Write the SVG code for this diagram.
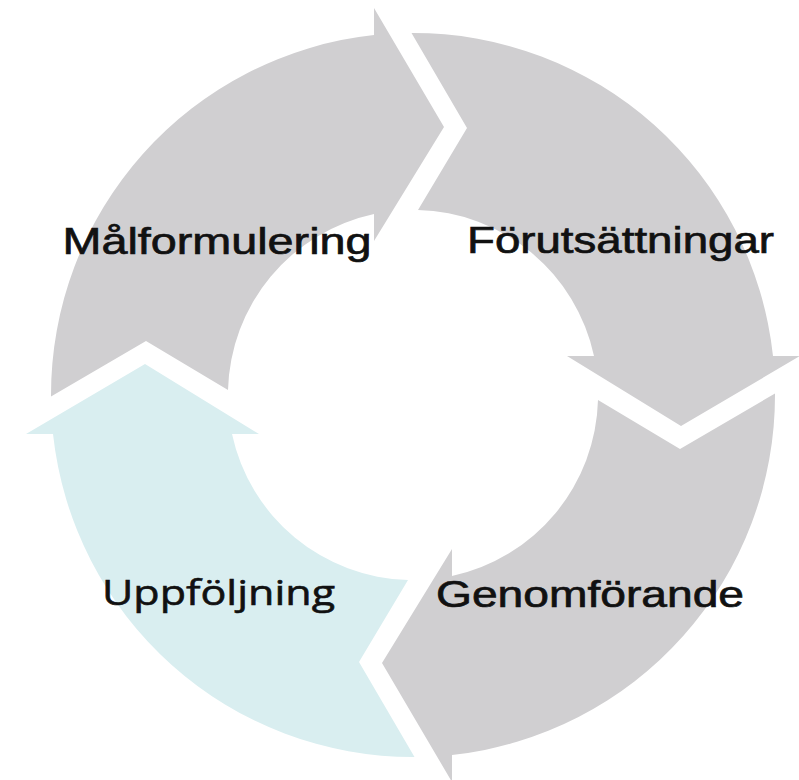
<svg xmlns="http://www.w3.org/2000/svg" width="799" height="780" viewBox="0 0 799 780">
  <style>
    .grey { fill: #d0cfd1; }
    .blue { fill: #d9eef0; }
    .lbl { font-family: "Liberation Sans", Arial, sans-serif; font-size: 37.5px; fill: #111111; stroke: #111111; stroke-width: 0.7px; }
    .lbl2 { font-family: "Open Sans", "Liberation Sans", sans-serif; font-size: 35.5px; fill: #111111; stroke: #111111; stroke-width: 0.6px; }
  </style>
  <defs>
    <path id="arrow" d="M 51 396.5 A 362 362 0 0 1 374 35 L 374 8 L 444 127 L 374 241 L 374 214 A 185 185 0 0 0 228 390 L 146 341 Z"/>
  </defs>
  <rect x="0" y="0" width="799" height="780" fill="#ffffff"/>
  <g id="malformulering">
    <use href="#arrow" class="grey"/>
  </g>
  <g id="forutsattningar">
    <use href="#arrow" class="grey" transform="rotate(90 413 395)"/>
  </g>
  <g id="genomforande">
    <use href="#arrow" class="grey" transform="rotate(180 413 395)"/>
  </g>
  <g id="uppfoljning">
    <use href="#arrow" class="blue" transform="rotate(270 413 395)"/>
  </g>
  <g id="connectors"></g>
  <g id="labels">
    <text class="lbl" x="62.5" y="254" textLength="309" lengthAdjust="spacingAndGlyphs">Målformulering</text>
    <text class="lbl" x="467" y="253" textLength="307" lengthAdjust="spacingAndGlyphs">Förutsättningar</text>
    <text class="lbl" x="436" y="607" textLength="308" lengthAdjust="spacingAndGlyphs">Genomförande</text>
    <text class="lbl2" x="102" y="605" textLength="233" lengthAdjust="spacingAndGlyphs">Uppföljning</text>
  </g>
</svg>
